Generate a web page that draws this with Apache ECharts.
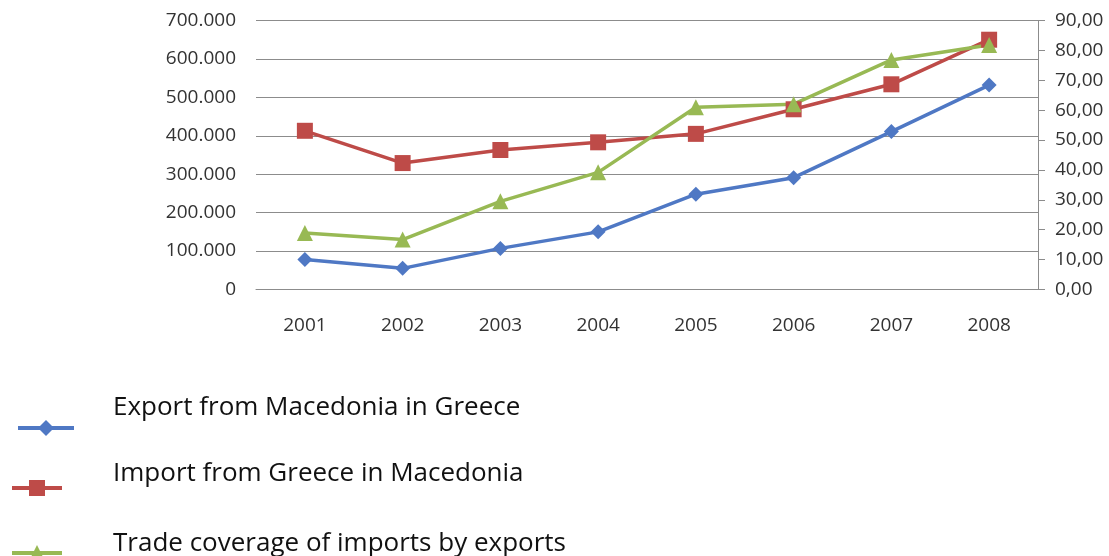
<!DOCTYPE html>
<html>
<head>
<meta charset="utf-8">
<script src="https://cdn.jsdelivr.net/npm/echarts@6/dist/echarts.min.js"></script>
<style>
html,body{margin:0;padding:0;background:#fff;}
#chart{width:1109px;height:556px;}
</style>
</head>
<body>
<div id="chart"></div>
<script>
const years = ['2001','2002','2003','2004','2005','2006','2007','2008'];
const exportName = 'Export from Macedonia in Greece';
const importName = 'Import from Greece in Macedonia';
const coverageName = 'Trade coverage of imports by exports';
const exportValues = [78000, 55000, 107000, 150000, 248000, 291000, 411000, 532000];
const importValues = [413000, 329000, 363000, 383000, 405000, 469000, 534000, 650000];
const coverageValues = [18.9, 16.7, 29.5, 39.2, 61.0, 62.0, 76.8, 81.8];

const fontFamily = '"Open Sans", "Noto Sans", sans-serif';
const chart = echarts.init(document.getElementById('chart'), null, {renderer: 'canvas'});

function fmtLeft(v){
  if (v === 0) return '0';
  return (v/1000).toFixed(0) + '.000';
}
function fmtRight(v){
  return v.toFixed(2).replace('.', ',');
}

function legendFor(name, iconCenterY, left, itemWidth, padLeft, lineH){
  return {
    data: [name],
    left: left,
    top: iconCenterY - 5 - lineH,
    orient: 'vertical',
    itemWidth: itemWidth,
    itemHeight: 20,
    selectedMode: false,
    lineStyle: {width: 4},
    formatter: function(n){ return n + '\n '; },
    textStyle: {
      fontFamily: fontFamily,
      fontSize: 26,
      color: '#111',
      lineHeight: lineH,
      padding: [0, 0, 0, padLeft]
    }
  };
}

chart.setOption({
  animation: false,
  backgroundColor: '#ffffff',
  grid: {left: 256, right: 71, top: 20.5, bottom: 266.5, containLabel: false},
  legend: [
    legendFor(exportName, 428, 11, 56, 34, 40),
    legendFor(importName, 488, 5, 50, 46, 28),
    legendFor(coverageName, 549, 5, 50, 46, 18)
  ],
  xAxis: {
    type: 'category',
    data: years,
    boundaryGap: true,
    axisLine: {show: true, lineStyle: {color: '#8c8c8c', width: 1}},
    axisTick: {show: false},
    axisLabel: {color: '#333', fontFamily: fontFamily, fontSize: 19, margin: 27}
  },
  yAxis: [
    {
      type: 'value',
      min: 0, max: 700000, interval: 100000,
      axisLine: {show: false},
      axisTick: {show: false},
      splitLine: {show: true, lineStyle: {color: '#8c8c8c', width: 1}},
      axisLabel: {color: '#333', fontFamily: fontFamily, fontSize: 19, margin: 20, formatter: fmtLeft}
    },
    {
      type: 'value',
      position: 'right',
      min: 0, max: 90, interval: 10,
      axisLine: {show: true, lineStyle: {color: '#8c8c8c', width: 1}},
      axisTick: {show: true, length: 7, lineStyle: {color: '#8c8c8c'}},
      splitLine: {show: false},
      axisLabel: {color: '#333', fontFamily: fontFamily, fontSize: 19, margin: 17, formatter: fmtRight}
    }
  ],
  series: [
    {
      name: exportName, type: 'line', data: exportValues, yAxisIndex: 0,
      symbol: 'diamond', symbolSize: 15,
      itemStyle: {color: '#4F78C4'},
      lineStyle: {color: '#4F78C4', width: 3.5}
    },
    {
      name: importName, type: 'line', data: importValues, yAxisIndex: 0,
      symbol: 'rect', symbolSize: 16,
      itemStyle: {color: '#BE4B48'},
      lineStyle: {color: '#BE4B48', width: 3.5}
    },
    {
      name: coverageName, type: 'line', data: coverageValues, yAxisIndex: 1,
      symbol: 'triangle', symbolSize: 16,
      itemStyle: {color: '#98B954'},
      lineStyle: {color: '#98B954', width: 3.5}
    }
  ]
});
</script>
</body>
</html>
